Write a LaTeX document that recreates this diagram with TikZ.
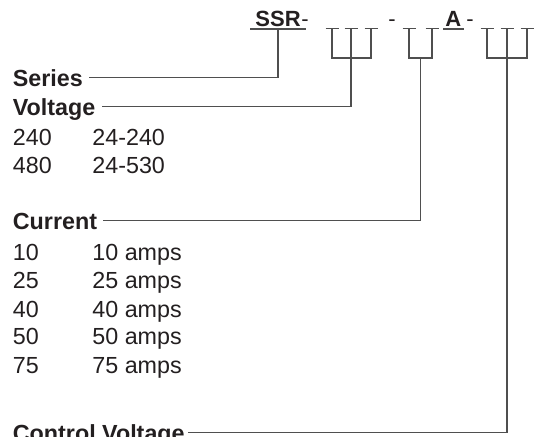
\documentclass[tikz,border=0pt]{standalone}
\usepackage{fontspec}
\setmainfont{Liberation Sans}
\usepackage{xcolor}
\usetikzlibrary{positioning}
\definecolor{ink}{HTML}{231F20}
\definecolor{wirecol}{HTML}{4F4F4F}

\begin{document}
\begin{tikzpicture}[
  x=0.5pt, y=-0.5pt,
  every node/.style={inner sep=0pt, anchor=base west, text=ink},
  head/.style={font=\fontsize{11.65}{14}\selectfont\bfseries, text height=8.35pt, text depth=0pt},
  val/.style={font=\fontsize{11.65}{14}\selectfont},
  code/.style={font=\fontsize{11}{13}\selectfont\bfseries, inner ysep=1.25pt, text depth=0pt},
  sep/.style={font=\fontsize{11}{13}\selectfont},
  wire/.style={draw=wirecol, line width=0.7pt}
]
  \path[use as bounding box, clip] (0,0) rectangle (534,436);

  % Part code
  \node[code, inner xsep=2.5pt] (ssr) at (250,26) {SSR};
  \node[sep] (d1) at (301,26) {-};
  \node[sep] (d2) at (388,26) {-};
  \node[code, inner xsep=1pt] (amp) at (443,26) {A};
  \node[sep] (d3) at (466,26) {-};
  \draw[wire] (ssr.south west) -- (ssr.south east);
  \draw[wire] (amp.south west) -- (amp.south east);

  % Slots
  \foreach \s/\x in {v1/332, v2/351, v3/371, c1/409, c2/432, k1/487, k2/507, k3/527}
    \coordinate (\s) at (\x,28.5);
  \foreach \s in {v1,v2,v3,c1,c2,k1,k2,k3}
    \draw[wire] ([xshift=-3.25pt]\s) -- ([xshift=3.25pt]\s);
  \coordinate (cmid) at (420.5,58);

  % Headings
  \node[head] (series)  at (12.5,86)  {Series};
  \node[head] (voltage) at (12.5,115) {Voltage};
  \node[head] (current) at (12.5,229) {Current};
  \node[head] (control) at (12.5,441) {Control Voltage};

  % Values
  \node[val] (v240)  at (12.5,145) {240};
  \node[val] (r240)  at (92,145)   {24-240};
  \node[val] (v480)  at (12.5,173) {480};
  \node[val] (r480)  at (92,173)   {24-530};
  \foreach \a/\y in {10/260, 25/288, 40/317, 50/344, 75/373} {
    \node[val] (i\a) at (12.5,\y) {\a};
    \node[val] (a\a) at (92,\y)   {\a\ amps};
  }

  % Leaders
  \draw[wire] (ssr.south) |- ([xshift=3pt]series.east);
  \draw[wire] (v1) -- ++(0,29.5) -| (v3);
  \draw[wire] (v2) |- ([xshift=3pt]voltage.east);
  \draw[wire] (c1) -- ++(0,29.5) -| (c2);
  \draw[wire] (cmid) |- ([xshift=3pt]current.east);
  \draw[wire] (k1) -- ++(0,29.5) -| (k3);
  \draw[wire] (k2) |- ([xshift=1.5pt]control.east);

\end{tikzpicture}
\end{document}
